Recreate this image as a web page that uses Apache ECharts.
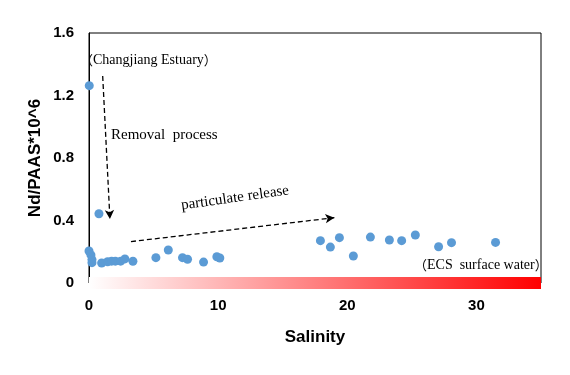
<!DOCTYPE html>
<html>
<head>
<meta charset="utf-8">
<script src="https://cdn.jsdelivr.net/npm/echarts@6/dist/echarts.min.js"></script>
<style>
  html, body { margin: 0; padding: 0; background: #fff; }
  #chart { width: 570px; height: 375px; }
</style>
</head>
<body>
<div id="chart"></div>
<script>
// salinity / Nd-PAAS 数据
const salinity = [0.0, 0.15, 0.23, 0.23, 0.98, 1.44, 1.75, 2.04, 2.45, 2.78, 3.4, 5.18, 6.14,
  7.24, 7.63, 8.87, 9.9, 10.13,
  17.92, 18.69, 19.39, 20.47, 21.79, 23.26, 24.21, 25.27, 27.07, 28.07, 31.48,
  0.02, 0.77]
const ndPaas = [0.205, 0.18, 0.15, 0.13, 0.128, 0.136, 0.14, 0.14, 0.14, 0.154, 0.139, 0.162, 0.211,
  0.162, 0.152, 0.134, 0.168, 0.16,
  0.271, 0.23, 0.29, 0.173, 0.294, 0.275, 0.271, 0.307, 0.232, 0.258, 0.26,
  1.263, 0.443]

// 箭头 (removal / release)
const removalArrow = [[1.06, 1.325], [1.62, 0.41]]
const releaseArrow = [[3.25, 0.265], [19.0, 0.418]]

const serif = '"Liberation Serif", "Times New Roman", serif'
const cjk = '"Noto Sans CJK SC", sans-serif'
const sans = '"Liberation Sans", Arial, sans-serif'

// 全角括号用 CJK 字体
const parenText = (txt, size) => ({
  text: '{p|（}{t|' + txt + '}{p|）}',
  rich: {
    p: { fontFamily: cjk, fontSize: size - 1, fill: '#000' },
    t: { fontFamily: serif, fontSize: size, fill: '#000' }
  }
})

const chart = echarts.init(document.getElementById('chart'))

const option = {
  backgroundColor: '#fff',
  animation: false,
  grid: {
    left: 89, top: 33, right: 29, bottom: 92,
    show: true, borderColor: '#000', borderWidth: 1
  },
  xAxis: {
    type: 'value',
    min: 0, max: 35, interval: 10,
    offset: 6,
    name: 'Salinity',
    nameLocation: 'middle',
    nameGap: 40,
    nameMoveOverlap: false,
    nameTextStyle: { fontFamily: sans, fontSize: 17, fontWeight: 'bold', color: '#000' },
    axisLine: {
      show: true,
      lineStyle: {
        width: 12,
        cap: 'butt',
        color: new echarts.graphic.LinearGradient(89, 0, 542, 0, [
          { offset: 0, color: '#ffffff' },
          { offset: 1, color: '#ff0000' }
        ], true)
      }
    },
    axisTick: { show: false },
    splitLine: { show: false },
    axisLabel: {
      showMaxLabel: false,
      margin: 9,
      fontFamily: sans, fontSize: 15, fontWeight: 'bold', color: '#000'
    }
  },
  yAxis: {
    type: 'value',
    min: 0, max: 1.6, interval: 0.4,
    name: 'Nd/PAAS*10^6',
    nameLocation: 'middle',
    nameGap: 45,
    nameMoveOverlap: false,
    nameTextStyle: { fontFamily: sans, fontSize: 17, fontWeight: 'bold', color: '#000' },
    axisLine: { show: true, lineStyle: { color: '#000', width: 1 } },
    axisTick: { show: false },
    splitLine: { show: false },
    axisLabel: {
      margin: 15,
      formatter: v => (v === 0 ? '0' : v.toFixed(1)),
      fontFamily: sans, fontSize: 15, fontWeight: 'bold', color: '#000'
    }
  },
  series: [{
    type: 'scatter',
    symbolSize: 9,
    itemStyle: { color: '#5b9bd5', opacity: 1 },
    data: salinity.map((s, i) => [s, ndPaas[i]]),
    markLine: {
      silent: true,
      symbol: ['none', 'arrow'],
      symbolSize: [7, 9],
      label: { show: false },
      lineStyle: { color: '#000', width: 1.3, type: [5, 3] },
      data: [
        [{ coord: removalArrow[0] }, { coord: removalArrow[1] }],
        [{ coord: releaseArrow[0] }, { coord: releaseArrow[1] }]
      ]
    }
  }],
  graphic: [
    { type: 'text', left: 80, top: 53,
      style: parenText('Changjiang Estuary', 14) },
    { type: 'text', left: 111, top: 128,
      style: { text: 'Removal  process', font: '15px ' + serif, fill: '#000' } },
    { type: 'text', x: 235, y: 198, rotation: 0.142,
      style: { text: 'particulate release', font: '15px ' + serif, fill: '#000',
        align: 'center', verticalAlign: 'middle' } },
    { type: 'text', left: 414, top: 258,
      style: parenText('ECS  surface water', 14) }
  ]
}

chart.setOption(option)
</script>
</body>
</html>
